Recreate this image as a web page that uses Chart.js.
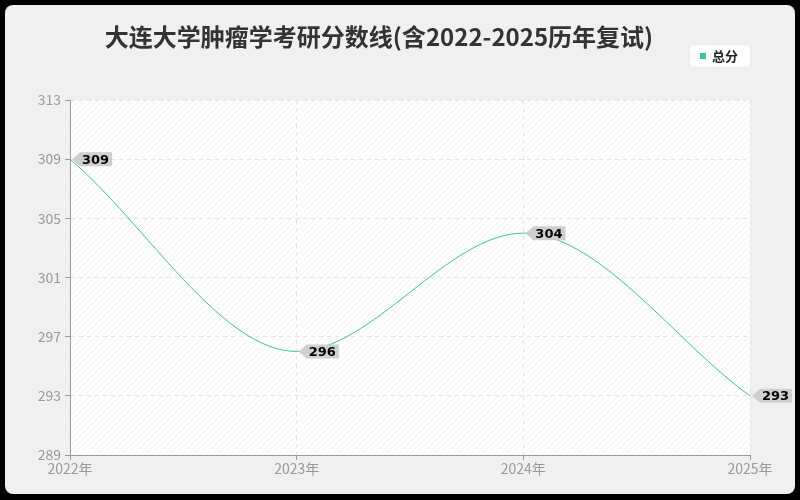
<!DOCTYPE html>
<html>
<head>
<meta charset="utf-8">
<script src="https://cdn.jsdelivr.net/npm/chart.js@4.4.0/dist/chart.umd.min.js"></script>
<style>
  html, body { margin: 0; padding: 0; background: #000; }
  #wrap { width: 800px; height: 500px; }
</style>
</head>
<body>
<div id="wrap"><canvas id="chart" width="800" height="500"></canvas></div>
<script>
// chart data
const years = ['2022年', '2023年', '2024年', '2025年'];
const totalScores = [309, 296, 304, 293];
const yTicks = [289, 293, 297, 301, 305, 309, 313];

const titleText = '大连大学肿瘤学考研分数线(含2022-2025历年复试)';
const seriesName = '总分';
const lineColor = '#3cc399';
const cjkFont = '"Noto Sans CJK SC", "Noto Sans", sans-serif';

// background card + hatched plot area
const backdrop = {
  id: 'backdrop',
  beforeDraw(chart) {
    const ctx = chart.ctx;
    const a = chart.chartArea;
    ctx.save();
    ctx.fillStyle = '#000';
    ctx.fillRect(0, 0, chart.width, chart.height);
    ctx.fillStyle = '#f0f0f0';
    ctx.beginPath();
    ctx.roundRect(5, 5, chart.width - 10, chart.height - 11, 8);
    ctx.fill();

    // hatch pattern
    const p = document.createElement('canvas');
    p.width = 6; p.height = 6;
    const pc = p.getContext('2d');
    pc.fillStyle = '#ffffff';
    pc.fillRect(0, 0, 6, 6);
    pc.strokeStyle = '#f2f2f2';
    pc.lineWidth = 1;
    pc.beginPath();
    pc.moveTo(0, 6); pc.lineTo(6, 0);
    pc.moveTo(-3, 3); pc.lineTo(3, -3);
    pc.moveTo(3, 9); pc.lineTo(9, 3);
    pc.stroke();
    ctx.fillStyle = ctx.createPattern(p, 'repeat');
    ctx.fillRect(a.left, a.top, a.right - a.left, a.bottom - a.top);

    // title
    ctx.fillStyle = '#333';
    ctx.font = 'bold 24px ' + cjkFont;
    ctx.textAlign = 'center';
    ctx.textBaseline = 'middle';
    ctx.fillText(titleText, 379, 37);
    ctx.restore();
  },
  afterDraw(chart) {
    const ctx = chart.ctx;
    ctx.save();
    // legend box
    ctx.fillStyle = '#fff';
    ctx.shadowColor = 'rgba(0,0,0,0.08)';
    ctx.shadowBlur = 2;
    ctx.beginPath();
    ctx.roundRect(690, 45, 60, 22, 4);
    ctx.fill();
    ctx.shadowBlur = 0;
    ctx.fillStyle = lineColor;
    ctx.fillRect(700, 53, 6, 6);
    ctx.fillStyle = '#222';
    ctx.font = 'bold 13px ' + cjkFont;
    ctx.textAlign = 'left';
    ctx.textBaseline = 'middle';
    ctx.fillText(seriesName, 712, 56);

    // value labels
    const meta = chart.getDatasetMeta(0);
    ctx.font = 'bold 13px "DejaVu Sans", sans-serif';
    meta.data.forEach((pt, i) => {
      const txt = String(totalScores[i]);
      const x = pt.x + 2, y = pt.y;
      const w = ctx.measureText(txt).width + 5;
      ctx.fillStyle = '#cfcfcf';
      ctx.beginPath();
      ctx.moveTo(x, y);
      ctx.lineTo(x + 8, y - 7);
      ctx.lineTo(x + 8 + w, y - 7);
      ctx.lineTo(x + 8 + w, y + 7);
      ctx.lineTo(x + 8, y + 7);
      ctx.closePath();
      ctx.fill();
      ctx.fillStyle = '#000';
      ctx.textAlign = 'left';
      ctx.fillText(txt, x + 10, y + 1);
    });
    ctx.restore();
  }
};

new Chart(document.getElementById('chart'), {
  type: 'line',
  data: {
    labels: years,
    datasets: [{
      label: seriesName,
      data: totalScores,
      borderColor: lineColor,
      borderWidth: 1,
      pointRadius: 0,
      fill: false,
      cubicInterpolationMode: 'monotone'
    }]
  },
  options: {
    responsive: false,
    animation: false,
    devicePixelRatio: 1,
    layout: { padding: { top: 100, right: 50, left: 0, bottom: 0 } },
    plugins: { legend: { display: false }, tooltip: { enabled: false }, title: { display: false } },
    scales: {
      x: {
        offset: false,
        afterFit(s) { s.height = 45; },
        grid: { color: '#e4e4e4', drawTicks: true, tickLength: 5, tickColor: '#999' },
        border: { display: true, color: '#999', dash: [4, 4] },
        ticks: { color: '#999', font: { size: 14, family: cjkFont }, padding: 0, maxRotation: 0 }
      },
      y: {
        min: 289, max: 313,
        afterFit(s) { s.width = 70; },
        afterBuildTicks(s) { s.ticks = yTicks.map(v => ({ value: v })); },
        grid: { color: '#e4e4e4', tickLength: 5, tickColor: '#999' },
        border: { display: true, color: '#999', dash: [4, 4] },
        ticks: { color: '#999', font: { size: 14, family: cjkFont }, padding: 4 }
      }
    }
  },
  plugins: [backdrop]
});
</script>
</body>
</html>
